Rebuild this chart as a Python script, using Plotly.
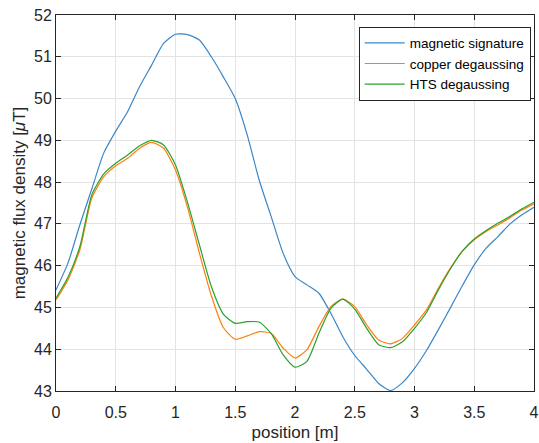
import plotly.graph_objects as go

position = [0.0, 0.1, 0.2, 0.3, 0.4, 0.5, 0.6, 0.7, 0.8, 0.9, 1.0, 1.1, 1.2, 1.3, 1.4,
            1.5, 1.6, 1.7, 1.8, 1.9, 2.0, 2.1, 2.2, 2.3, 2.4, 2.5, 2.6, 2.7, 2.8, 2.9,
            3.0, 3.1, 3.2, 3.3, 3.4, 3.5, 3.6, 3.7, 3.8, 3.9, 4.0]

magnetic_signature = [45.42, 46.06, 46.98, 47.84, 48.70, 49.22, 49.69, 50.29, 50.80, 51.32,
                      51.54, 51.53, 51.40, 51.00, 50.52, 50.00, 49.13, 48.05, 47.18, 46.30,
                      45.74, 45.54, 45.34, 44.86, 44.30, 43.85, 43.52, 43.18, 43.01, 43.20,
                      43.54, 43.97, 44.47, 44.99, 45.52, 46.02, 46.42, 46.70, 47.00, 47.22,
                      47.40]

copper_degaussing = [45.18, 45.66, 46.38, 47.62, 48.13, 48.39, 48.57, 48.81, 48.95, 48.81,
                     48.29, 47.40, 46.30, 45.28, 44.52, 44.24, 44.32, 44.42, 44.38, 44.03,
                     43.79, 43.99, 44.54, 45.02, 45.20, 45.02, 44.58, 44.22, 44.13, 44.26,
                     44.58, 44.94, 45.46, 45.94, 46.34, 46.62, 46.82, 46.98, 47.15, 47.33,
                     47.48]

hts_degaussing = [45.22, 45.72, 46.46, 47.70, 48.20, 48.45, 48.65, 48.87, 49.00, 48.89,
                  48.41, 47.52, 46.50, 45.50, 44.84, 44.62, 44.66, 44.65, 44.38, 43.87,
                  43.57, 43.71, 44.38, 44.98, 45.20, 44.96, 44.50, 44.11, 44.04, 44.18,
                  44.50, 44.88, 45.42, 45.92, 46.35, 46.64, 46.84, 47.02, 47.18, 47.36,
                  47.52]

series_names = ["magnetic signature", "copper degaussing", "HTS degaussing"]
series_colors = ["#3a87c8", "#ff7f0e", "#2ca02c"]

x_ticks = [0, 0.5, 1, 1.5, 2, 2.5, 3, 3.5, 4]
x_tick_labels = ["0", "0.5", "1", "1.5", "2", "2.5", "3", "3.5", "4"]
y_ticks = [43, 44, 45, 46, 47, 48, 49, 50, 51, 52]

fig = go.Figure()
for name, vals, col in zip(series_names,
                           [magnetic_signature, copper_degaussing, hts_degaussing],
                           series_colors):
    fig.add_trace(go.Scatter(x=position, y=vals, mode="lines", name=name,
                             line=dict(color=col, width=1.2, shape="spline", smoothing=0.6)))

axis_col = "#262626"
font_family = "Liberation Sans, Arial, sans-serif"

fig.update_layout(
    width=539, height=443,
    margin=dict(l=56, r=5, t=15, b=52),
    paper_bgcolor="white", plot_bgcolor="white",
    font=dict(family=font_family, size=16, color=axis_col),
    showlegend=True,
    legend=dict(x=0.993, y=0.969, xanchor="right", yanchor="top",
                bgcolor="white", bordercolor=axis_col, borderwidth=1,
                font=dict(size=13.5, color="#000000"),
                tracegroupgap=0, itemwidth=40),
)
fig.update_xaxes(range=[0, 4], tickvals=x_ticks, ticktext=x_tick_labels,
                 showgrid=True, gridcolor="#e3e3e3", gridwidth=1,
                 showline=True, linecolor=axis_col, linewidth=1, mirror="ticks",
                 ticks="inside", ticklen=5, tickcolor=axis_col,
                 zeroline=False, automargin=False, ticklabeloverflow="allow",
                 ticklabelstandoff=7,
                 tickfont=dict(size=16),
                 title=dict(text="position [m]", font=dict(size=17), standoff=5))
fig.update_yaxes(range=[43, 52], tickvals=y_ticks,
                 showgrid=True, gridcolor="#e3e3e3", gridwidth=1,
                 showline=True, linecolor=axis_col, linewidth=1, mirror="ticks",
                 ticks="inside", ticklen=5, tickcolor=axis_col,
                 zeroline=False, automargin=False, ticklabeloverflow="allow",
                 tickfont=dict(size=16),
                 title=dict(text="magnetic flux density [<i>μ</i>T]", font=dict(size=17), standoff=4))

# remove the browser's default 8px body margin so the figure fills the window exactly
fig.write_html("out.html",
               config={"displayModeBar": False},
               post_script="document.body.style.margin='0';document.body.style.overflow='hidden';")
